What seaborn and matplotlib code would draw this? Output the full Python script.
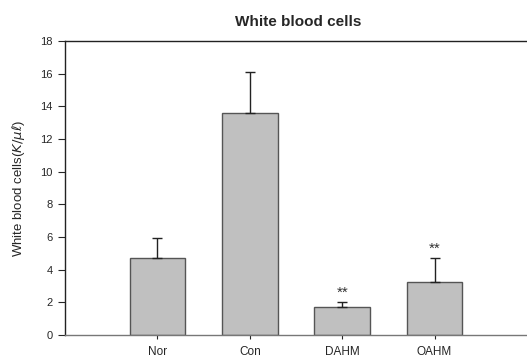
import matplotlib
matplotlib.use("Agg")
import matplotlib.pyplot as plt
import seaborn as sns
import numpy as np

categories = ["Nor", "Con", "DAHM", "OAHM"]
means = [4.7, 13.6, 1.7, 3.25]
errors = [1.25, 2.5, 0.3, 1.45]
marks = ["", "", "**", "**"]
yticks = [0, 2, 4, 6, 8, 10, 12, 14, 16, 18]

sns.set_style("white")
plt.rcParams['font.family'] = ['Liberation Sans', 'DejaVu Sans']

fig = plt.figure(figsize=(5.27, 3.59), dpi=100)
ax = fig.add_axes([0.1233, 0.0669, 0.8767, 0.8189])

sns.barplot(x=categories, y=means, color="#c0c0c0", edgecolor="#555555",
            linewidth=1.0, width=0.6, saturation=1, ax=ax)
for p in ax.patches:
    p.set_facecolor("#c0c0c0")

xs = np.arange(len(categories))
ax.errorbar(xs, means, yerr=[np.zeros(len(errors)), errors], fmt="none",
            ecolor="#222222", elinewidth=1.0, capsize=3.8, capthick=1.0)

for x, m, e, s in zip(xs, means, errors, marks):
    if s:
        ax.text(x, m + e + 0.15, s, ha="center", va="bottom", fontsize=11, color="#333333")

ax.set_xlim(-1, 4)
ax.set_ylim(0, 18)
ax.set_yticks(yticks)
ax.set_yticklabels([str(t) for t in yticks], fontsize=8)
ax.tick_params(axis="x", labelsize=8.5, length=3, width=0.8, direction="out", bottom=True, pad=5)
ax.tick_params(axis="y", length=5, width=0.8, direction="out", left=True, pad=4)
ax.set_xlabel("")
ax.set_ylabel(r"White blood cells($K/\mu\ell$)", fontsize=9.5)
ax.yaxis.set_label_coords(-0.082, 0.5)

for side in ["left", "top", "bottom"]:
    ax.spines[side].set_visible(True)
    ax.spines[side].set_linewidth(1.0)
ax.spines["left"].set_color("#222222")
ax.spines["top"].set_color("#222222")
ax.spines["bottom"].set_color("#777777")
ax.spines["right"].set_visible(False)

fig.text(0.565, 0.94, "White blood cells", ha="center", va="center",
         fontsize=11, fontweight="bold")

fig.savefig("out.png", dpi=100)
